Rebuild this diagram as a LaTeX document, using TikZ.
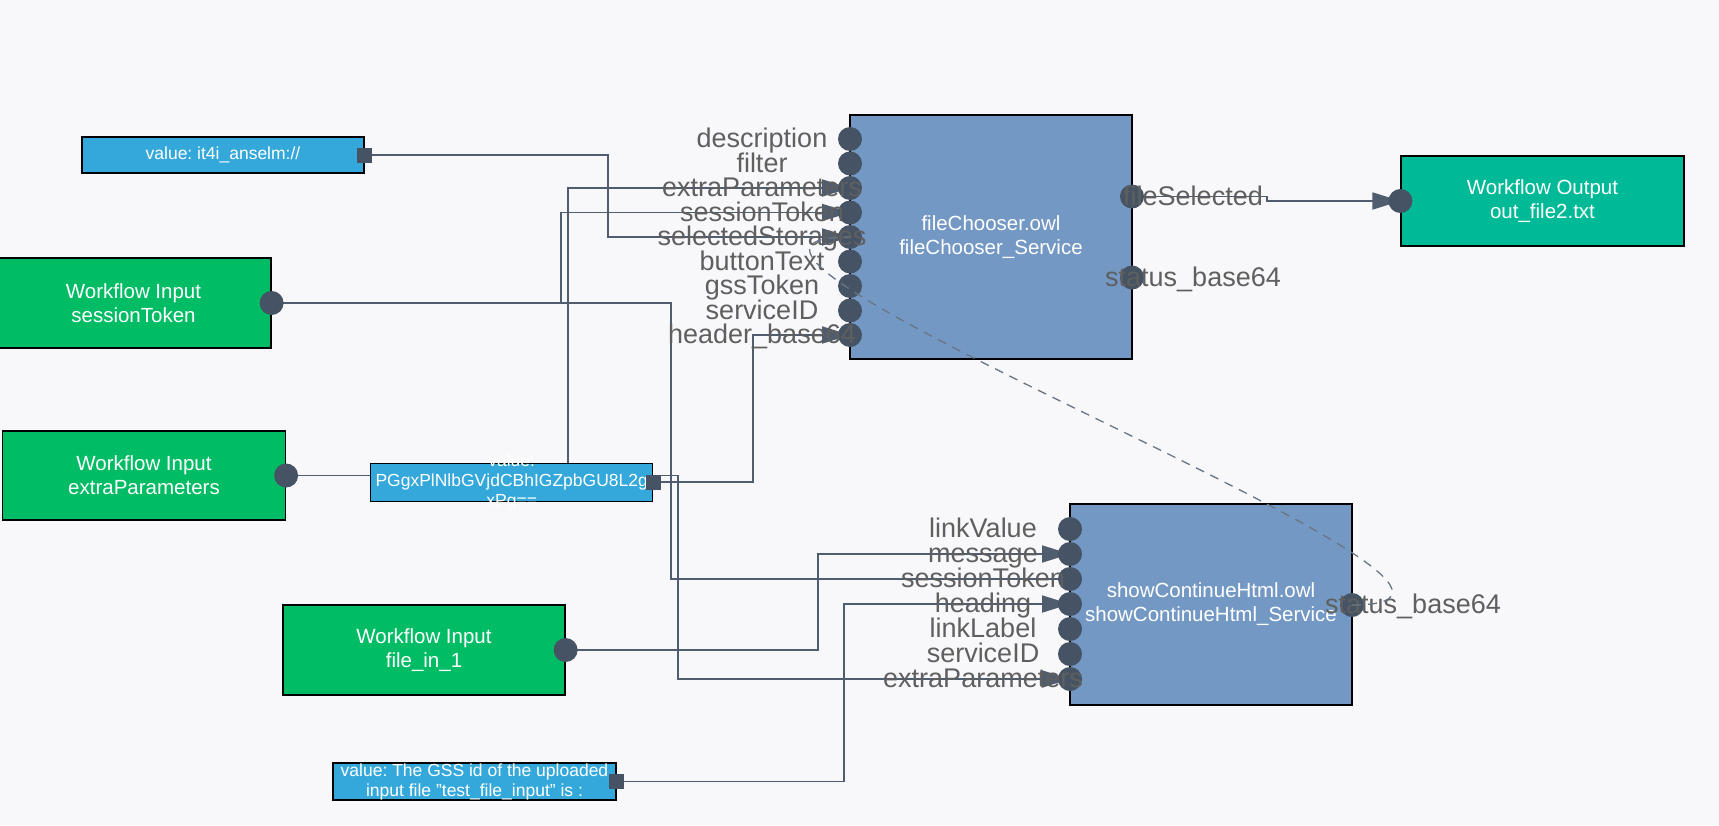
\documentclass[tikz,border=0pt]{standalone}
\usepackage{fontspec}
\setmainfont{Liberation Sans}
\usetikzlibrary{arrows.meta}
\pgfdeclarelayer{canvas}
\pgfdeclarelayer{wires}
\pgfsetlayers{canvas,wires,main}
\frenchspacing

\definecolor{canvasc}{RGB}{248,248,250}
\definecolor{wirec}{RGB}{80,93,110}
\definecolor{portc}{RGB}{69,83,100}
\definecolor{lblc}{RGB}{95,95,95}
\definecolor{wfgreen}{RGB}{0,188,100}
\definecolor{wfteal}{RGB}{0,185,150}
\definecolor{svcblue}{RGB}{116,152,196}
\definecolor{valblue}{RGB}{52,168,219}

\newcommand\portfont{\fontsize{27}{27}\selectfont}
\newcommand\boxfont{\fontsize{20.5}{24}\selectfont}
\newcommand\valfont{\fontsize{17.5}{20}\selectfont}

\begin{document}
\begin{tikzpicture}[x=1pt,y=-1pt]
\tikzstyle{wfin}=[draw=black,line width=1.2pt,fill=wfgreen,text=white,align=center,font=\boxfont,minimum width=282pt,minimum height=90pt,inner sep=0pt]
\tikzstyle{wfout}=[wfin,fill=wfteal]
\tikzstyle{svc}=[wfin,fill=svcblue]
\tikzstyle{valbox}=[draw=black,line width=1.2pt,fill=valblue,minimum width=282pt,inner sep=0pt]
\tikzstyle{valtxt}=[text=white,align=center,font=\valfont,inner sep=0pt]
\tikzstyle{port}=[circle,fill=portc,inner sep=0pt,minimum size=24pt]
\tikzstyle{vport}=[rectangle,fill=portc,inner sep=0pt,minimum size=15pt]
\tikzstyle{portlbl}=[text=lblc,font=\portfont,inner sep=0pt,text height=23pt,text depth=5.7pt]
\tikzstyle{wire}=[draw=wirec,line width=1.8pt]
\tikzstyle{arr}=[-{Triangle[length=28pt,width=17pt]}]
\tikzstyle{dep}=[draw=wirec!85,line width=1.3pt,dash pattern=on 9pt off 7pt]

\begin{pgfonlayer}{canvas}
\fill[canvasc] (0,0) rectangle (1719,825);
\end{pgfonlayer}
\useasboundingbox (0,0) rectangle (1719,825);

% workflow inputs / output
\node[wfin,minimum width=275pt] (inSess) at (133.5,303) {Workflow Input\\sessionToken};
\node[wfin,minimum width=283pt,minimum height=89pt] (inExtra) at (144,475.5) {Workflow Input\\extraParameters};
\node[wfin] (inFile) at (424,650) {Workflow Input\\file\_in\_1};
\node[wfout,minimum width=283pt] (outFile) at (1542.5,201) {Workflow Output\\out\_file2.txt};

% services
\node[svc,minimum height=244pt] (fc) at (991,237) {fileChooser.owl\\fileChooser\_Service};
\node[svc,minimum height=201pt] (sc) at (1211,604.5) {showContinueHtml.owl\\showContinueHtml\_Service};

% constant values
\node[valbox,minimum height=36pt] (valIt4i) at (223,155) {};
\node[valtxt] (valIt4iTxt) at (valIt4i) {value: it4i\_anselm://};
\node[valbox,minimum height=38pt] (valHeader) at (511.7,482.2) {};
\node[valtxt] (valHeaderTxt) at (valHeader) {value:\\PGgxPlNlbGVjdCBhIGZpbGU8L2g\\xPg==};
\node[valbox,minimum height=37pt,minimum width=283pt] (valGss) at (474.5,781.5) {};
\node[valtxt] (valGssTxt) at (valGss) {value: The GSS id of the uploaded\\input file "test\_file\_input" is :};

\node[vport] (valIt4i-out) at (valIt4i.east) {};
\node[vport] (valHeader-out) at (valHeader.east) {};
\node[vport] (valGss-out) at (valGss.east) {};

% ports
\node[port] (inSess-out) at (inSess.east) {};
\node[port] (inExtra-out) at (inExtra.east) {};
\node[port] (inFile-out) at (inFile.east) {};
\node[port] (outFile-in) at (outFile.west) {};

\foreach \p/\t [count=\i] in {description/description,filter/filter,extraParameters/extraParameters,sessionToken/sessionToken,selectedStorages/selectedStorages,buttonText/buttonText,gssToken/gssToken,serviceID/serviceID,headerBase/header\_base64}{
  \node[port] (fc-\p) at (850,{114.5+24.5*\i}) {};
  \node[portlbl] (fc-\p-lbl) at (762,{114.5+24.5*\i}) {\t};
}
\node[port] (fc-fileSelected) at (1132,196.5) {};
\node[portlbl] (fc-fileSelected-lbl) at (1193,196.5) {fileSelected};
\node[port] (fc-status) at (1132,277.5) {};
\node[portlbl] (fc-status-lbl) at (1193,277.5) {status\_base64};

\foreach \p/\t [count=\i] in {linkValue/linkValue,message/message,sessionToken/sessionToken,heading/heading,linkLabel/linkLabel,serviceID/serviceID,extraParameters/extraParameters}{
  \node[port] (sc-\p) at (1070,{504+25*\i}) {};
  \node[portlbl] (sc-\p-lbl) at (983,{504+25*\i}) {\t};
}
\node[port] (sc-status) at (1352,605) {};
\node[portlbl] (sc-status-lbl) at (1413,605) {status\_base64};

% links
\begin{pgfonlayer}{wires}
\draw[wire,arr] (valIt4i-out.center) -- ++(243,0) |- (fc-selectedStorages.center);
\draw[wire,arr] (inSess-out.center) -- ++(289,0) |- (fc-sessionToken.center);
\draw[wire] (inSess-out.center) -- ++(399,0) |- (sc-sessionToken.center);
\draw[wire,arr] (inExtra-out.center) -- ++(282,0) |- (fc-extraParameters.center);
\draw[wire,arr] (inExtra-out.center) -- ++(392,0) |- (sc-extraParameters.center);
\draw[wire,arr] (valHeader-out.center) -- ++(100,0) |- (fc-headerBase.center);
\draw[wire,arr] (inFile-out.center) -- ++(252,0) |- (sc-message.center);
\draw[wire,arr] (valGss-out.center) -- ++(227,0) |- (sc-heading.center);
\draw[wire,arr] (fc-fileSelected.center) -- ++(135,0) |- (outFile-in.center);
\end{pgfonlayer}

\draw[dep] (sc-status.center) .. controls +(250,0) and +(-250,0) .. (fc-selectedStorages.center);
\end{tikzpicture}
\end{document}
